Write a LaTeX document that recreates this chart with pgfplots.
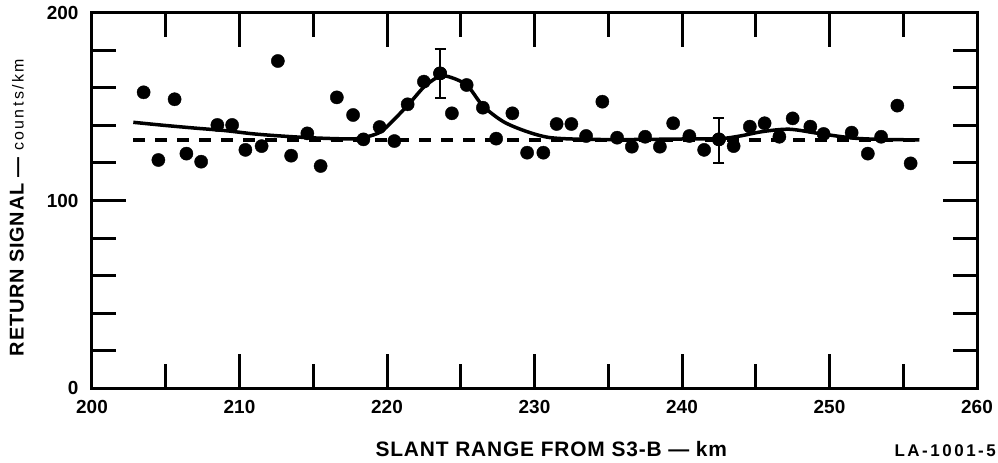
\documentclass[border=0pt]{standalone}
\usepackage{fontspec}
\setmainfont{Liberation Sans}
\newfontfamily\lblfont[LetterSpace=4]{Liberation Sans}
\newfontfamily\unitfont[LetterSpace=15]{Liberation Sans}
\newfontfamily\tagfont[LetterSpace=15]{Liberation Sans}
\usepackage{pgfplots}
\usepackage{pgfplotstable}
\pgfplotsset{compat=1.18}
\usetikzlibrary{calc}

% measured return signal, one point per km bin
\pgfplotstableread{
x y
203.5 157.7
204.5 121.6
205.6 154.0
206.4 125.0
207.4 120.7
208.5 140.3
209.5 140.3
210.4 127.0
211.5 129.0
212.6 174.4
213.5 123.9
214.6 135.8
215.5 118.4
216.6 155.0
217.7 145.6
218.4 132.6
219.5 139.2
220.5 131.7
221.4 151.3
222.5 163.4
223.6 167.8
224.4 146.5
225.4 161.6
226.5 149.5
227.4 133.0
228.5 146.5
229.5 125.5
230.6 125.5
231.5 140.8
232.5 140.8
233.5 134.4
234.6 152.7
235.6 133.5
236.6 128.7
237.5 134.0
238.5 128.7
239.4 141.2
240.5 134.4
241.5 127.0
242.5 132.6
243.5 129.0
244.6 139.4
245.6 141.2
246.6 134.0
247.5 143.8
248.7 139.4
249.6 135.5
251.5 136.2
252.6 125.0
253.5 134.0
254.6 150.6
255.5 119.8
}\signal

% points carrying error bars
\pgfplotstableread{
x y ep em
223.6 167.8 12.8 13.3
242.5 132.6 11.4 12.6
}\errs

% fitted curve
\pgfplotstableread{
x y
202.8 141.7
205.0 140.0
207.0 138.6
209.0 137.3
211.0 135.5
213.0 134.3
215.0 133.4
217.0 132.9
218.2 133.2
219.5 136.3
220.4 142.5
221.6 152.5
222.5 160.5
223.4 165.6
224.1 166.2
225.4 161.6
226.5 150.5
227.9 142.0
229.5 136.7
231.0 133.6
233.0 132.7
236.0 132.5
240.0 132.8
242.6 133.0
244.0 134.5
245.5 136.8
247.3 138.0
249.4 135.6
251.6 133.3
253.5 132.6
256.1 132.3
}\fit

\begin{document}
\begin{tikzpicture}
\begin{axis}[
    scale only axis,
    width=885bp, height=375bp,
    xmin=200, xmax=260, ymin=0, ymax=200,
    axis line style={line width=3bp},
    xtick={200,210,...,260}, minor x tick num=1,
    ytick={0,100,200}, minor ytick={20,40,60,80,120,140,160,180},
    tick align=inside,
    major tick length=34bp, minor tick length=24bp,
    tick style={line width=3bp, black},
    /pgf/number format/assume math mode=true,
    /pgf/number format/1000 sep={},
    ticklabel style={font=\bfseries\fontsize{19}{19}\selectfont},
    yticklabel style={xshift=-10bp},
    xticklabel style={yshift=-9bp},
    xlabel={\lblfont\bfseries\fontsize{21}{21}\selectfont SLANT RANGE FROM S3-B — km},
    xlabel style={at={(rel axis cs:0.519,-0.163)}, anchor=center, inner sep=0pt},
    ylabel={\lblfont\bfseries\fontsize{20}{20}\selectfont RETURN SIGNAL — {\unitfont\mdseries\fontsize{16}{16}\selectfont counts/km}},
    ylabel style={at={(rel axis cs:-0.085,0.481)}, anchor=center, inner sep=0pt},
    clip=false,
]
\coordinate (bl) at (rel axis cs:0,0);
\coordinate (tr) at (rel axis cs:1,1);

\addplot[black, line width=3.5bp, dash pattern=on 12bp off 10bp]
    coordinates {(202.8,132.3) (256.1,132.3)};

\addplot[black, line width=3.5bp, smooth, tension=0.5] table[x=x, y=y] {\fit};

\addplot[only marks, mark=*, mark size=6.6bp, black] table[x=x, y=y] {\signal};

\addplot[only marks, mark=*, mark size=6.6bp, black,
    error bars/.cd, y dir=both, y explicit,
    error bar style={line width=2bp, black},
    error mark options={rotate=90, mark size=5.5bp, line width=2bp, black}]
    table[x=x, y=y, y error plus=ep, y error minus=em] {\errs};

\node[anchor=east, inner sep=0pt] at (rel axis cs:1.0215,-0.168)
    {\tagfont\bfseries\fontsize{17}{17}\selectfont LA-1001-5};
\end{axis}
\pgfresetboundingbox
\path ($(bl)+(-92bp,-75bp)$) rectangle ($(tr)+(21bp,13bp)$);
\end{tikzpicture}
\end{document}
